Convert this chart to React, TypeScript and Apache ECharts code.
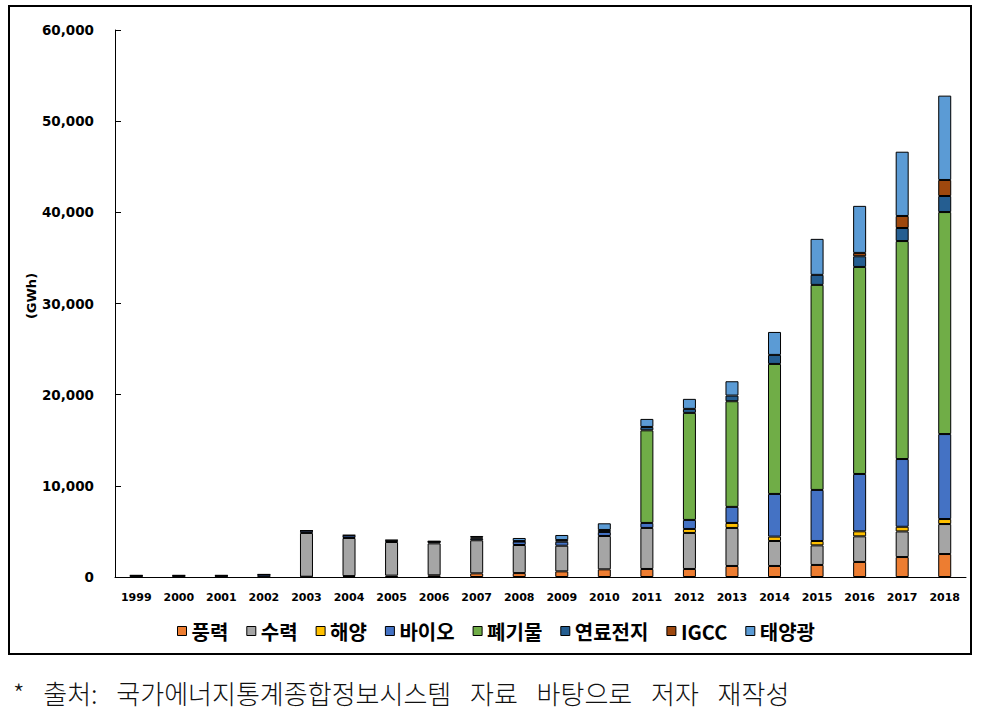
import React, { useEffect, useRef } from "react";
import * as echarts from "echarts";

const years = ["1999","2000","2001","2002","2003","2004","2005","2006","2007","2008","2009","2010","2011","2012","2013","2014","2015","2016","2017","2018"];
const seriesNames = ["풍력","수력","해양","바이오","폐기물","연료전지","IGCC","태양광"];
const wind =     [20,20,20,40, 30,100,150,190, 400,430,620,840, 880,880,1210,1210, 1320,1650,2190,2520];
const hydro =    [0,0,0,0, 4800,4180,3690,3500, 3630,3080,2810,3660, 4500,3950,4170,2740, 2150,2810,2810,3290];
const ocean =    [0,0,0,0, 0,0,0,0, 0,0,0,0, 0,440,550,480, 480,550,510,550];
const bio =      [150,150,150,230, 250,280,180,170, 200,380,440,440, 550,990,1760,4680, 5600,6290,7430,9320];
const waste =    [0,0,0,0, 0,0,0,0, 0,0,0,0, 10160,11740,11590,14260, 22490,22710,23910,24350];
const fuelCell = [0,0,0,0, 0,0,0,30, 100,50,180,220, 370,440,620,990, 1100,1170,1430,1760];
const igcc =     [0,0,0,0, 0,0,0,0, 0,0,0,0, 0,0,0,0, 0,370,1320,1760];
const solar =    [10,10,10,20, 20,40,40,50, 170,340,560,730, 880,1100,1570,2520, 3950,5160,7050,9250];
const colors = ["#ED7D31","#A5A5A5","#FFC000","#4472C4","#70AD47","#255E91","#9E480E","#5B9BD5"];
const yTicks = [0,10000,20000,30000,40000,50000,60000];
const footerText = "*\u2002 출처:\u2002 국가에너지통계종합정보시스템\u2002 자료\u2002 바탕으로\u2002 저자\u2002 재작성";

export default function App() {
  const ref = useRef<HTMLDivElement>(null);
  useEffect(() => {
    if (!ref.current) return;
    const chart = echarts.init(ref.current, undefined, { renderer: "svg" });
    const all = [wind, hydro, ocean, bio, waste, fuelCell, igcc, solar];
    const series = all.map((arr, i) => ({
      name: seriesNames[i],
      type: "bar",
      stack: "total",
      barWidth: 13,
      data: arr.map((v) => (v === 0 ? "-" : v)),
      itemStyle: { color: colors[i], borderColor: "#000", borderWidth: 1 },
    }));
    chart.setOption({
      animation: false,
      backgroundColor: "#fff",
      grid: { left: 115, right: 17, top: 30, bottom: 135, containLabel: false },
      legend: {
        data: seriesNames,
        left: 172,
        top: 616,
        itemWidth: 9,
        itemHeight: 9,
        itemGap: 18,
        icon: "rect",
        itemStyle: { borderColor: "#000", borderWidth: 1 },
        textStyle: { fontFamily: "Noto Sans CJK KR", fontWeight: "bold", fontSize: 20, color: "#000" },
      },
      xAxis: {
        type: "category",
        data: years,
        axisLine: { lineStyle: { color: "#000", width: 1 } },
        axisTick: { inside: true, length: 5, alignWithLabel: false, interval: 0, lineStyle: { color: "#000" } },
        axisLabel: { interval: 0, margin: 15, fontFamily: "DejaVu Sans", fontWeight: "bold", fontSize: 11, color: "#000" },
      },
      yAxis: {
        type: "value",
        min: yTicks[0],
        max: yTicks[yTicks.length - 1],
        interval: 10000,
        splitLine: { show: false },
        axisLine: { show: true, lineStyle: { color: "#000", width: 1 } },
        axisTick: { show: true, inside: true, length: 6, lineStyle: { color: "#000" } },
        axisLabel: {
          margin: 21,
          fontFamily: "DejaVu Sans",
          fontWeight: "bold",
          fontSize: 13.5,
          color: "#000",
          formatter: (v: number) => v.toLocaleString("en-US"),
        },
      },
      graphic: [
        {
          type: "rect",
          shape: { x: 9, y: 6, width: 962, height: 648 },
          style: { fill: "none", stroke: "#000", lineWidth: 2 },
          z: -1,
        },
        {
          type: "text",
          x: 31,
          y: 296,
          rotation: Math.PI / 2,
          style: {
            text: "(GWh)",
            font: "bold 13px 'DejaVu Sans'",
            fill: "#000",
            align: "center",
            verticalAlign: "middle",
          },
        },
        {
          type: "text",
          x: 13,
          y: 692,
          style: {
            text: footerText,
            font: "300 26px 'Noto Sans CJK KR'",
            fill: "#111",
            align: "left",
            verticalAlign: "middle",
          },
        },
      ],
      series,
    });
    return () => chart.dispose();
  }, []);
  return <div ref={ref} style={{ position: "fixed", left: 0, top: 0, width: 983, height: 712 }} />;
}
